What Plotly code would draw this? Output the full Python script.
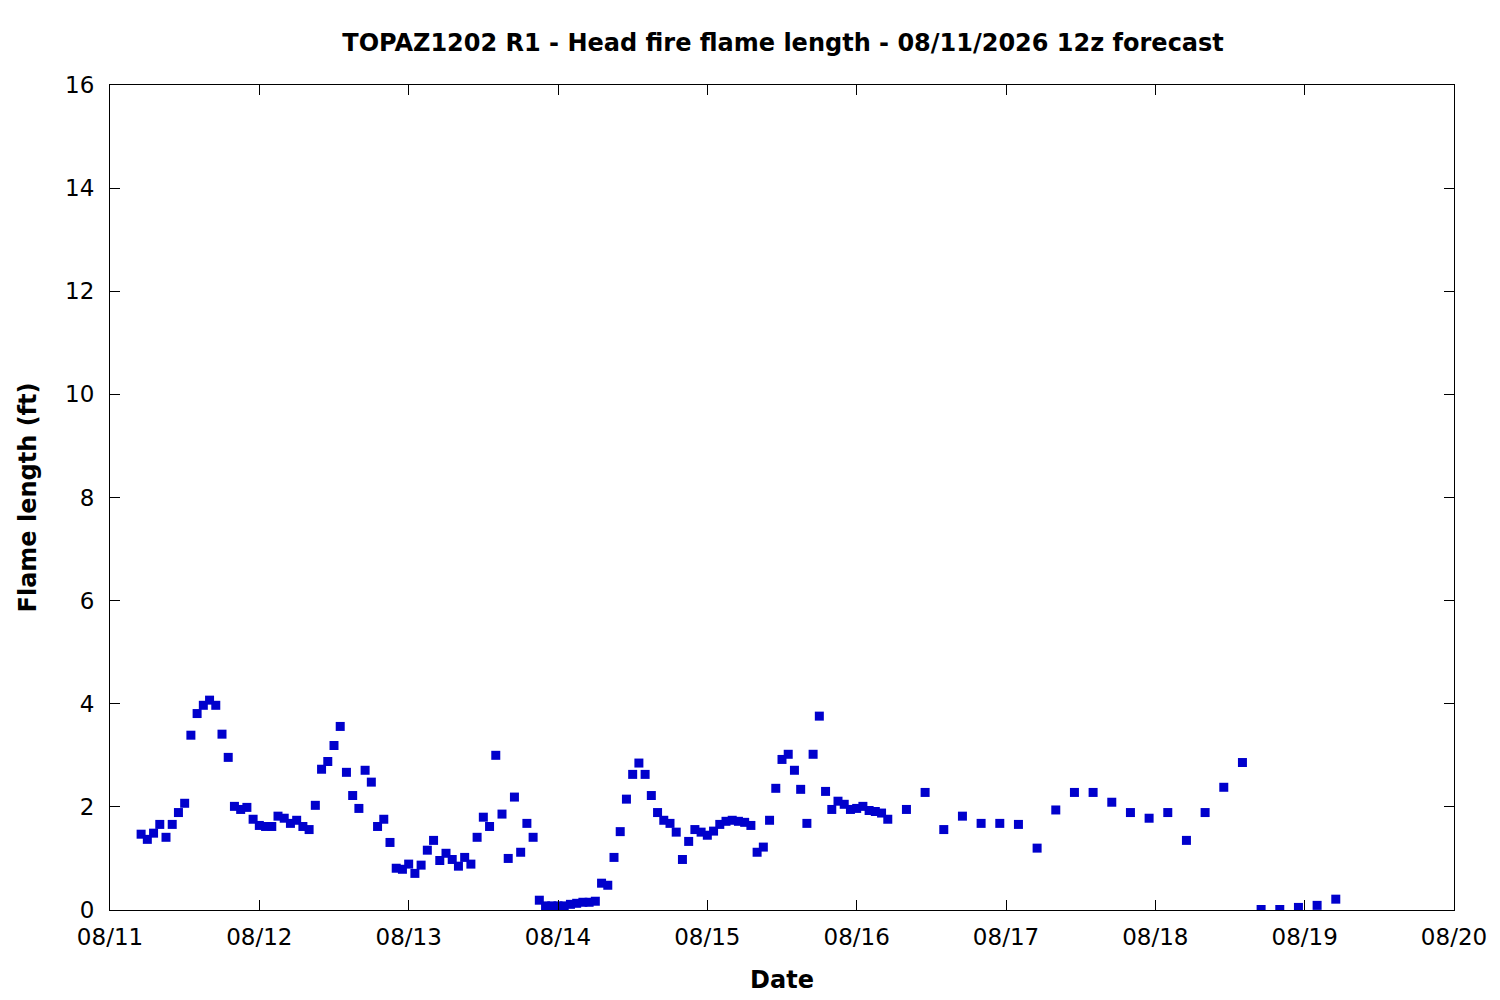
import plotly.graph_objects as go
from datetime import datetime, timedelta

# forecast start and valid hours (hours after 08/11 00z)
start = datetime(2026, 8, 11, 0)
hours_hourly = list(range(5, 126))
hours_3h = list(range(128, 198, 3))

# head fire flame length (ft), hourly part
flame_hourly = [
    1.47, 1.37, 1.49, 1.66, 1.41, 1.66, 1.89, 2.07, 3.39, 3.81,
    3.97, 4.07, 3.97, 3.41, 2.96, 2.01, 1.95, 1.99, 1.76, 1.64,
    1.62, 1.62, 1.82, 1.78, 1.68, 1.74, 1.62, 1.56, 2.03, 2.73,
    2.88, 3.19, 3.56, 2.67, 2.22, 1.97, 2.71, 2.48, 1.62, 1.76,
    1.31, 0.81, 0.79, 0.89, 0.71, 0.87, 1.16, 1.35, 0.96, 1.10,
    0.98, 0.85, 1.02, 0.89, 1.41, 1.80, 1.62, 3.00, 1.86, 1.00,
    2.19, 1.12, 1.68, 1.41, 0.19, 0.08, 0.08, 0.08, 0.08, 0.11,
    0.13, 0.15, 0.15, 0.17, 0.52, 0.48, 1.02, 1.52, 2.15, 2.63,
    2.85, 2.63, 2.22, 1.89, 1.74, 1.68, 1.51, 0.98, 1.33, 1.56,
    1.51, 1.45, 1.53, 1.66, 1.72, 1.74, 1.72, 1.70, 1.64, 1.12,
    1.22, 1.74, 2.36, 2.92, 3.02, 2.71, 2.34, 1.68, 3.02, 3.76,
    2.30, 1.95, 2.11, 2.05, 1.95, 1.97, 2.01, 1.93, 1.91, 1.88,
    1.76,
]

# 3-hourly part
flame_3h = [
    1.95, 2.28, 1.56, 1.82, 1.68, 1.68, 1.66, 1.20, 1.94, 2.28,
    2.28, 2.09, 1.89, 1.78, 1.89, 1.35, 1.89, 2.38, 2.86, 0.01,
    0.01, 0.05, 0.09, 0.21,
]

hours = hours_hourly + hours_3h
flame = flame_hourly + flame_3h
times = [start + timedelta(hours=h) for h in hours]

day_ticks = [start + timedelta(days=d) for d in range(10)]
y_ticks = list(range(0, 17, 2))

fig = go.Figure()
fig.add_trace(go.Scatter(
    x=times, y=flame,
    mode='markers',
    marker=dict(symbol='square', size=9, color='#0000cc', line=dict(width=0)),
    showlegend=False,
))

# page body adds 8px, so margins are shifted by that
font_main = 'DejaVu Sans'
fig.update_layout(
    width=1500, height=1000,
    paper_bgcolor='white', plot_bgcolor='white',
    margin=dict(l=102, r=54, t=77, b=98),
    font=dict(family=font_main, size=23, color='black'),
    title=dict(
        text='<b>TOPAZ1202 R1 - Head fire flame length - 08/11/2026 12z forecast</b>',
        x=0.5167, xanchor='center', y=0.965, yanchor='middle',
        font=dict(family=font_main, size=24, color='black'),
    ),
)
fig.update_xaxes(
    range=[day_ticks[0], day_ticks[-1]],
    tickvals=day_ticks, tickformat='%m/%d',
    ticks='inside', ticklen=10, tickcolor='black', tickwidth=1,
    ticklabelstandoff=6,
    showline=True, linecolor='black', linewidth=1, mirror='ticks',
    showgrid=False, zeroline=False, automargin=False,
    title=dict(text='<b>Date</b>', standoff=22, font=dict(size=24)),
)
fig.update_yaxes(
    range=[0, 16], tickvals=y_ticks,
    ticks='inside', ticklen=10, tickcolor='black', tickwidth=1,
    ticklabelstandoff=10,
    showline=True, linecolor='black', linewidth=1, mirror='ticks',
    showgrid=False, zeroline=False, automargin=False,
    title=dict(text='<b>Flame length (ft)</b>', standoff=21, font=dict(size=24)),
)

fig.write_html("out.html")
